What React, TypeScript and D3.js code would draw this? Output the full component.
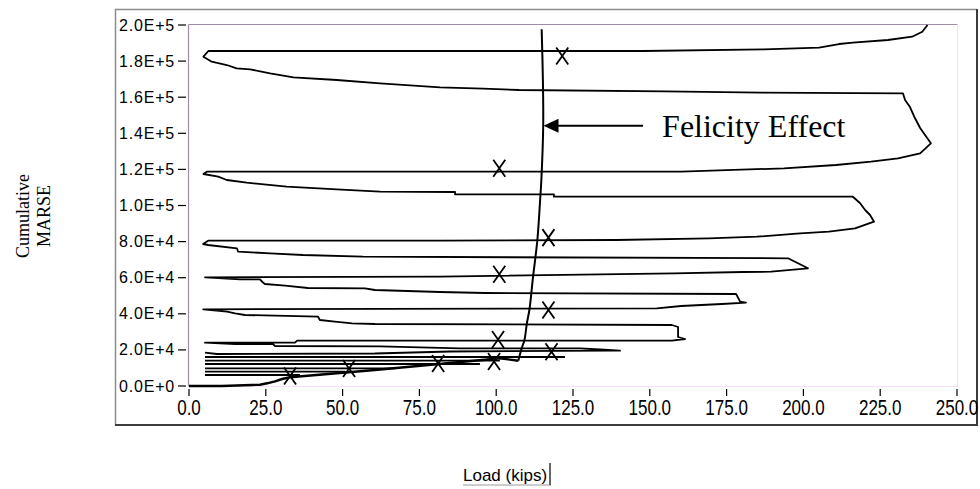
import React, { useRef, useEffect } from "react";
import * as d3 from "d3";

type Pt = [number, number];

// axis ticks
const xTicks = [0, 25, 50, 75, 100, 125, 150, 175, 200, 225, 250];
const xTickLabels = ["0.0", "25.0", "50.0", "75.0", "100.0", "125.0", "150.0", "175.0", "200.0", "225.0", "250.0"];
const yTicks = [0, 20000, 40000, 60000, 80000, 100000, 120000, 140000, 160000, 180000, 200000];
const yTickLabels = ["0.0E+0", "2.0E+4", "4.0E+4", "6.0E+4", "8.0E+4", "1.0E+5", "1.2E+5", "1.4E+5", "1.6E+5", "1.8E+5", "2.0E+5"];

// low load cycles: unload / reload at constant MARSE
const lowCycles: Pt[][] = [
  [[5.2, 6094], [36.1, 6094]],
  [[5.2, 7922], [50.8, 7922]],
  [[5.2, 9806], [67.1, 9806]],
  [[5.2, 12188], [94.7, 12188]],
  [[5.2, 14016], [101.2, 14016]],
  [[5.2, 16066], [122.4, 16066]],
];

// first loading
const envelope: Pt[] = [
  [0, 0], [10.7, 0], [20.5, 554], [23.1, 720], [25.4, 1496], [28.0, 2604],
  [30.3, 3878], [32.9, 4820], [60.5, 8864], [98.0, 14792], [101.2, 15346], [107.2, 14016],
];

// load (kips), cumulative MARSE
const hysteresis: Pt[] = [
  [5.2, 18448], [9.1, 17728], [60.5, 18005], [85.0, 19113], [138.0, 19556], [140.3, 19556],
  [133.8, 20221], [127.3, 20886], [88.2, 20886], [62.2, 21994], [28.0, 22160], [27.3, 23268],
  [15.0, 23268], [5.2, 23988],
  [34.5, 23988], [35.2, 25096], [157.2, 25096], [161.5, 26038], [159.2, 27146], [159.2, 32686],
  [157.2, 33794],
  [60.5, 34348], [53.1, 34736], [47.5, 35622], [42.6, 36564], [42.0, 38392], [18.2, 39334],
  [15.0, 40276], [12.4, 41162], [4.6, 42492],
  [152.3, 43046], [160.2, 44320], [173.5, 45428], [181.3, 46148], [179.4, 46702], [178.1, 50968],
  [96.4, 51522], [81.7, 52076], [60.5, 53184], [57.3, 54126], [38.7, 54292], [31.3, 55566],
  [24.7, 56508], [23.8, 57782], [23.1, 59112], [16.6, 59112], [5.2, 60220],
  [81.7, 60552], [157.9, 62436], [180.3, 63156], [189.5, 63322], [201.5, 65206], [195.0, 70746],
  [56.6, 71632], [37.1, 72574], [26.4, 73516], [16.0, 74402], [15.6, 76286], [6.2, 78114],
  [4.6, 78668], [6.2, 80496],
  [81.7, 80496], [139.0, 80884], [169.3, 81826], [184.9, 82712], [198.9, 84596], [208.3, 85482],
  [216.8, 87366], [223.0, 91022], [221.7, 94734], [220.1, 97504], [218.4, 101382], [216.1, 104872],
  [118.8, 104872], [118.8, 106202], [86.6, 106202], [86.6, 107476], [62.2, 107642], [48.1, 108972],
  [31.8, 110412], [18.8, 112628], [12.3, 114124], [9.5, 115952], [4.7, 117448], [5.8, 118722],
  [160.2, 118722], [193.7, 120606], [210.6, 122434], [222.0, 124262], [230.8, 126146],
  [238.0, 128916], [241.5, 134456], [239.6, 139054], [238.0, 142932], [236.3, 148472],
  [234.7, 154566], [233.1, 158444], [232.4, 162156],
  [186.5, 162488], [154.9, 163264], [107.4, 163984], [95.7, 164704], [81.7, 165480], [62.2, 167696],
  [48.1, 169524], [34.0, 171020], [26.4, 173236], [19.9, 175452], [15.5, 176006], [12.3, 177834],
  [7.4, 179662], [4.7, 182432], [6.3, 185590],
  [147.8, 185590], [187.2, 186532], [205.1, 187418], [211.6, 189468], [216.1, 190188],
  [227.5, 191684], [235.4, 193512], [238.7, 196282], [240.4, 200000],
];

const felicityCurve: Pt[] = [
  [107.2, 14016], [108.3, 20886], [109.2, 25484], [110.0, 34902], [110.8, 42104], [112.0, 60552],
  [113.4, 80884], [114.3, 103044], [114.7, 114124], [115.3, 144206], [115.2, 169524], [114.8, 197612],
];

const felicityMarks: Pt[] = [
  [32.9, 5500], [52.1, 9700], [81.1, 12500], [99.3, 13600], [100.6, 25800], [118.0, 19000],
  [117.0, 42100], [101.0, 61900], [117.0, 82200], [101.0, 120600], [121.5, 182800],
];

const annotationText = "Felicity Effect";
const annotationPos: Pt = [154.0, 137900];
const arrowFrom: Pt = [147.8, 144200];
const arrowTo: Pt = [115.4, 144200];

export default function App() {
  const svgRef = useRef<SVGSVGElement>(null);

  useEffect(() => {
    if (!svgRef.current) return;
    const svg = d3.select(svgRef.current);
    svg.selectAll("*").remove();

    const width = 980;
    const height = 489;
    svg.attr("width", width).attr("height", height);

    const xScale = d3.scaleLinear().domain([0, 250]).range([189, 957]);
    const yScale = d3.scaleLinear().domain([0, 200000]).range([386, 25]);

    // outer panel (sunken frame)
    svg.append("rect").attr("x", 115).attr("y", 9).attr("width", 862).attr("height", 416).attr("fill", "#fff");
    svg.append("line").attr("x1", 115).attr("x2", 977).attr("y1", 9.5).attr("y2", 9.5).attr("stroke", "#8c8c8c").attr("stroke-width", 1.5);
    svg.append("line").attr("x1", 115.5).attr("x2", 115.5).attr("y1", 9).attr("y2", 425).attr("stroke", "#8c8c8c").attr("stroke-width", 1.5);
    svg.append("line").attr("x1", 115).attr("x2", 978).attr("y1", 425).attr("y2", 425).attr("stroke", "#3c3c3c").attr("stroke-width", 2);
    svg.append("line").attr("x1", 977).attr("x2", 977).attr("y1", 9).attr("y2", 426).attr("stroke", "#3c3c3c").attr("stroke-width", 2);

    // plot frame
    const x0 = xScale(0) - 0.5, x1 = xScale(250) + 0.5;
    const y0 = yScale(200000) - 0.5, y1 = yScale(0) + 0.5;
    svg.append("line").attr("x1", x0).attr("x2", x1).attr("y1", y0).attr("y2", y0).attr("stroke", "#a08ca6").attr("stroke-width", 1.2);
    svg.append("line").attr("x1", x0).attr("x2", x0).attr("y1", y0).attr("y2", y1).attr("stroke", "#a08ca6").attr("stroke-width", 1.2);
    svg.append("line").attr("x1", x0).attr("x2", x1).attr("y1", y1).attr("y2", y1).attr("stroke", "#f9e2f9").attr("stroke-width", 1.2);
    svg.append("line").attr("x1", x1).attr("x2", x1).attr("y1", y0).attr("y2", y1).attr("stroke", "#f9e2f9").attr("stroke-width", 1.2);

    // y axis ticks + labels
    const yAxis = svg.append("g");
    yTicks.forEach((t, i) => {
      yAxis.append("line").attr("x1", 178).attr("x2", 186).attr("y1", yScale(t)).attr("y2", yScale(t))
        .attr("stroke", "#000").attr("stroke-width", 1.2);
      yAxis.append("text").attr("x", 175).attr("y", yScale(t) + 5.5)
        .attr("text-anchor", "end").attr("font-family", "Liberation Sans, Arial, sans-serif")
        .attr("font-size", 16).attr("letter-spacing", 0.8).attr("fill", "#000")
        .text(yTickLabels[i]);
    });

    // x axis ticks + labels
    const xAxis = svg.append("g");
    xTicks.forEach((t, i) => {
      xAxis.append("line").attr("x1", xScale(t)).attr("x2", xScale(t)).attr("y1", 389).attr("y2", 396)
        .attr("stroke", "#000").attr("stroke-width", 1.2);
      xAxis.append("text").attr("transform", `translate(${xScale(t)},415) scale(1,1.25)`)
        .attr("text-anchor", "middle").attr("font-family", "Liberation Sans, Arial, sans-serif")
        .attr("font-size", 17).attr("fill", "#000")
        .text(xTickLabels[i]);
    });

    const line = d3.line<Pt>().x((d) => xScale(d[0])).y((d) => yScale(d[1]));

    const plot = svg.append("g");

    lowCycles.forEach((seg) => {
      plot.append("path").datum(seg).attr("fill", "none").attr("stroke", "#000")
        .attr("stroke-width", 1.8).attr("d", line);
    });

    plot.append("path").datum(hysteresis).attr("fill", "none").attr("stroke", "#000")
      .attr("stroke-width", 1.8).attr("stroke-linejoin", "round").attr("d", line);

    plot.append("path").datum(envelope).attr("fill", "none").attr("stroke", "#000")
      .attr("stroke-width", 2.4).attr("d", line);

    const curve = d3.line<Pt>().x((d) => xScale(d[0])).y((d) => yScale(d[1])).curve(d3.curveCatmullRom);
    plot.append("path").datum(felicityCurve).attr("fill", "none").attr("stroke", "#000")
      .attr("stroke-width", 2).attr("d", curve);

    // X markers
    plot.selectAll(".mark").data(felicityMarks).enter().append("path")
      .attr("class", "mark")
      .attr("d", (d) => {
        const cx = xScale(d[0]);
        const cy = yScale(d[1]);
        return `M${cx - 6},${cy - 8.5}L${cx + 6},${cy + 8.5}M${cx + 6},${cy - 8.5}L${cx - 6},${cy + 8.5}`;
      })
      .attr("stroke", "#000").attr("stroke-width", 1.8).attr("fill", "none");

    // annotation arrow + text
    const ax1 = xScale(arrowFrom[0]);
    const ax2 = xScale(arrowTo[0]);
    const ay = yScale(arrowFrom[1]);
    svg.append("line").attr("x1", ax1).attr("x2", ax2 + 14).attr("y1", ay).attr("y2", ay)
      .attr("stroke", "#000").attr("stroke-width", 2);
    svg.append("path").attr("d", `M${ax2},${ay}L${ax2 + 15},${ay - 7}L${ax2 + 15},${ay + 7}Z`).attr("fill", "#000");
    svg.append("text").attr("x", xScale(annotationPos[0])).attr("y", yScale(annotationPos[1]))
      .attr("font-family", "Liberation Serif, Times New Roman, serif").attr("font-size", 32)
      .attr("fill", "#000").text(annotationText);

    // y axis title
    const yt = svg.append("text").attr("transform", "translate(29,216) rotate(-90)")
      .attr("text-anchor", "middle").attr("font-family", "Liberation Serif, Times New Roman, serif")
      .attr("font-size", 18).attr("fill", "#000");
    yt.append("tspan").attr("x", 0).attr("y", 0).text("Cumulative");
    yt.append("tspan").attr("x", 0).attr("y", 21).text("MARSE");

    // x axis title
    svg.append("text").attr("x", 463).attr("y", 480.5)
      .attr("font-family", "Liberation Sans, Arial, sans-serif").attr("font-size", 17)
      .attr("fill", "#000").text("Load (kips)");
    svg.append("line").attr("x1", 463).attr("x2", 551).attr("y1", 485).attr("y2", 485)
      .attr("stroke", "#9a9a9a").attr("stroke-width", 1);
    svg.append("line").attr("x1", 550).attr("x2", 550).attr("y1", 463).attr("y2", 485)
      .attr("stroke", "#333").attr("stroke-width", 1.5);
  }, []);

  return (
    <div style={{ position: "absolute", left: 0, top: 0 }}>
      <svg ref={svgRef} style={{ display: "block" }}></svg>
    </div>
  );
}
